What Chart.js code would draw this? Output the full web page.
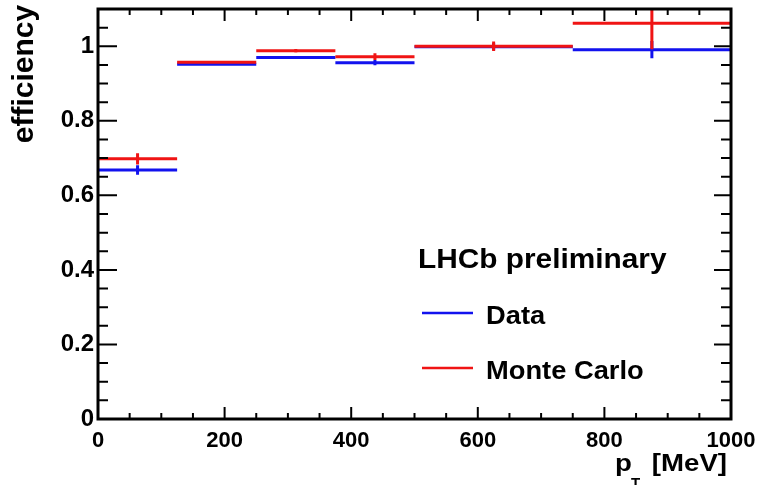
<!DOCTYPE html>
<html>
<head>
<meta charset="utf-8">
<script src="https://cdn.jsdelivr.net/npm/chart.js@4"></script>
<style>
  html, body { margin: 0; padding: 0; background: #fff; }
  canvas { display: block; }
</style>
</head>
<body>
<canvas id="c" width="759" height="485"></canvas>
<script>
// pT bins [MeV] and efficiency per bin
const binEdges = [0, 125, 250, 375, 500, 750, 1000];
const dataEff = [0.668, 0.952, 0.970, 0.956, 0.999, 0.991];
const dataErr = [0.013, 0.004, 0.004, 0.007, 0.010, 0.023];
const mcEff   = [0.698, 0.957, 0.988, 0.972, 1.000, 1.062];
const mcErr   = [0.015, 0.004, 0.005, 0.009, 0.013, 0.070];
const xTickLabels = [0, 200, 400, 600, 800, 1000];
const yTickLabels = [0, 0.2, 0.4, 0.6, 0.8, 1];

const FONT = '"Liberation Sans", Arial, Helvetica, sans-serif';
const BLUE = '#1212ee';
const RED = '#f01414';

// Histogram bars: a horizontal step over each bin plus a vertical error bar at the bin centre
function histSegments(eff, err) {
  const pts = [];
  for (let i = 0; i < eff.length; i++) {
    const lo = binEdges[i], hi = binEdges[i + 1], c = (lo + hi) / 2;
    pts.push({x: lo, y: eff[i]}, {x: hi, y: eff[i]}, {x: hi, y: null});
    pts.push({x: c, y: eff[i] - err[i]}, {x: c, y: eff[i] + err[i]}, {x: c, y: null});
  }
  return pts;
}

function stretchText(ctx, text, x, y, size, sx, align) {
  ctx.save();
  ctx.font = 'bold ' + size + 'px ' + FONT;
  ctx.fillStyle = '#000';
  ctx.textAlign = align || 'left';
  ctx.textBaseline = 'alphabetic';
  ctx.translate(x, y);
  ctx.scale(sx, 1);
  ctx.fillText(text, 0, 0);
  ctx.restore();
}

// Frame with inward ticks on all four sides, axis titles and the in-plot legend
const rootStyle = {
  id: 'rootStyle',
  afterDatasetsDraw(chart) {
    const {ctx, chartArea: a, scales: {x, y}} = chart;
    ctx.save();
    ctx.strokeStyle = '#000';
    ctx.lineWidth = 2;
    ctx.beginPath();
    for (let k = 0; k <= 20; k++) {
      const px = x.getPixelForValue(k * 50);
      const len = k % 4 === 0 ? 12 : 6;
      ctx.moveTo(px, a.bottom); ctx.lineTo(px, a.bottom - len);
      ctx.moveTo(px, a.top); ctx.lineTo(px, a.top + len);
    }
    for (let k = 0; k <= 22; k++) {
      const py = y.getPixelForValue(k * 0.05);
      const major = k % 4 === 0;
      ctx.moveTo(a.left, py); ctx.lineTo(a.left + (major ? 19 : 10), py);
      ctx.moveTo(a.right, py); ctx.lineTo(a.right - (major ? 17 : 10), py);
    }
    ctx.stroke();
    ctx.lineWidth = 3;
    ctx.strokeRect(a.left, a.top, a.right - a.left, a.bottom - a.top);
    ctx.restore();
  },
  afterDraw(chart) {
    const ctx = chart.ctx;
    // y title
    ctx.save();
    ctx.font = 'bold 30px ' + FONT;
    ctx.fillStyle = '#000';
    ctx.textAlign = 'center';
    ctx.textBaseline = 'alphabetic';
    ctx.translate(33, 74);
    ctx.rotate(-Math.PI / 2);
    ctx.fillText('efficiency', 0, 0);
    ctx.restore();
    // x title: p_T [MeV]
    stretchText(ctx, 'p', 615, 471, 23, 1.2, 'left');
    stretchText(ctx, 'T', 631, 488, 15, 1.0, 'left');
    stretchText(ctx, '[MeV]', 727, 471, 23, 1.2, 'right');
    // legend
    stretchText(ctx, 'LHCb preliminary', 418, 268, 28, 1.065, 'left');
    const rows = [{ds: chart.data.datasets[0], y: 313}, {ds: chart.data.datasets[1], y: 368}];
    rows.forEach(r => {
      ctx.save();
      ctx.strokeStyle = r.ds.borderColor;
      ctx.lineWidth = 2.5;
      ctx.beginPath();
      ctx.moveTo(422, r.y); ctx.lineTo(473, r.y);
      ctx.stroke();
      ctx.restore();
      stretchText(ctx, r.ds.label, 486, r.y + 11, 26, 1.05, 'left');
    });
  }
};

new Chart(document.getElementById('c'), {
  type: 'line',
  data: {
    datasets: [
      {label: 'Data', data: histSegments(dataEff, dataErr), borderColor: BLUE, borderWidth: 3, order: 2},
      {label: 'Monte Carlo', data: histSegments(mcEff, mcErr), borderColor: RED, borderWidth: 3, order: 1}
    ]
  },
  options: {
    responsive: false,
    animation: false,
    clip: 0,
    spanGaps: false,
    elements: {point: {radius: 0, hoverRadius: 0}, line: {tension: 0, borderCapStyle: 'butt'}},
    layout: {padding: {left: 0, right: 28, top: 9, bottom: 0}},
    plugins: {legend: {display: false}, tooltip: {enabled: false}},
    scales: {
      x: {
        type: 'linear', min: 0, max: 1000,
        grid: {display: false, drawTicks: false},
        border: {display: false},
        afterBuildTicks: s => { s.ticks = xTickLabels.map(v => ({value: v})); },
        afterFit: s => { s.height = 66; s.paddingLeft = 0; s.paddingRight = 0; },
        ticks: {
          autoSkip: false, maxRotation: 0, padding: 9, color: '#000',
          font: {family: FONT, weight: 'bold', size: 22},
          callback: v => String(v)
        }
      },
      y: {
        type: 'linear', min: 0, max: 1.1,
        grid: {display: false, drawTicks: false},
        border: {display: false},
        afterBuildTicks: s => { s.ticks = yTickLabels.map(v => ({value: v})); },
        afterFit: s => { s.width = 98; s.paddingTop = 0; s.paddingBottom = 0; },
        ticks: {
          padding: 4, color: '#000',
          font: {family: FONT, weight: 'bold', size: 24},
          callback: v => String(v)
        }
      }
    }
  },
  plugins: [rootStyle]
});
</script>
</body>
</html>
